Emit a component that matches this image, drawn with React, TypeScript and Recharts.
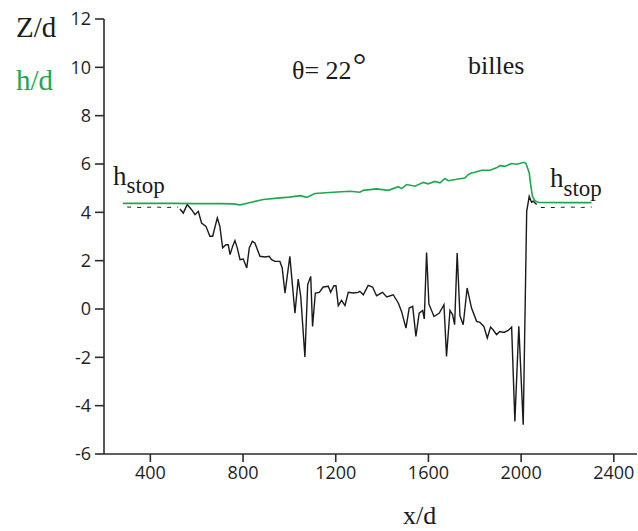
import { LineChart, Line, XAxis, YAxis } from 'recharts'

// x/d ticks and Z/d ticks
const xTicks = [400, 800, 1200, 1600, 2000, 2400]
const yTicks = [-6, -4, -2, 0, 2, 4, 6, 8, 10, 12]

// h/d (green)
const hX = [281, 400, 500, 600, 700, 757, 787, 823, 887, 959, 1000, 1046, 1075, 1110, 1189, 1261, 1304, 1319, 1376, 1427, 1470, 1484, 1506, 1542, 1578, 1599, 1628, 1650, 1671, 1686, 1729, 1757, 1772, 1786, 1801, 1830, 1865, 1894, 1908, 1930, 1959, 1981, 2012, 2021, 2035, 2042, 2049, 2059, 2074, 2200, 2304]
const hY = [4.37, 4.37, 4.37, 4.36, 4.36, 4.35, 4.31, 4.39, 4.53, 4.6, 4.63, 4.69, 4.62, 4.78, 4.83, 4.87, 4.83, 4.91, 4.97, 4.91, 5.06, 4.98, 5.15, 5.08, 5.24, 5.18, 5.28, 5.22, 5.4, 5.31, 5.38, 5.42, 5.56, 5.63, 5.66, 5.74, 5.74, 5.84, 5.93, 5.9, 6.02, 5.99, 6.07, 6.02, 5.63, 5.08, 4.66, 4.48, 4.41, 4.4, 4.4]

// Z/d (black)
const zX = [528, 542, 559, 578, 593, 607, 621, 640, 657, 669, 689, 700, 712, 726, 736, 744, 755, 765, 775, 787, 801, 816, 827, 840, 851, 873, 895, 913, 923, 938, 959, 969, 981, 1002, 1024, 1038, 1049, 1067, 1079, 1092, 1100, 1112, 1129, 1146, 1168, 1178, 1192, 1201, 1211, 1225, 1240, 1254, 1276, 1297, 1304, 1319, 1340, 1359, 1376, 1402, 1420, 1448, 1470, 1484, 1503, 1517, 1532, 1546, 1560, 1575, 1582, 1592, 1602, 1624, 1647, 1667, 1678, 1693, 1704, 1713, 1724, 1736, 1750, 1767, 1786, 1808, 1822, 1839, 1854, 1868, 1879, 1894, 1908, 1926, 1944, 1959, 1973, 1990, 2009, 2024, 2035, 2045, 2052, 2067]
const zY = [4.14, 3.97, 4.32, 4.11, 3.9, 4.04, 3.56, 3.42, 3.01, 3.01, 3.77, 3.42, 2.53, 2.66, 2.66, 2.25, 2.59, 2.83, 2.53, 2.04, 2.07, 1.7, 2.53, 2.8, 2.73, 2.18, 2.15, 2.18, 2.04, 1.97, 1.97, 1.7, 0.66, 2.18, -0.17, 1.24, 0.52, -1.99, 1.01, 1.35, -0.72, 0.66, 0.69, 0.91, 0.94, 0.69, 0.96, 0.96, 0.14, 0.36, 0.14, 0.69, 0.66, 0.69, 0.73, 0.59, 0.98, 0.91, 0.55, 0.69, 0.5, 0.59, 0.25, -0.1, -0.79, 0.04, 0.11, -1.13, -0.17, -0.06, -0.41, 2.34, 0.21, -0.31, -0.17, 0.18, -1.96, -0.06, -0.23, -0.65, 2.32, -0.28, -0.65, 0.87, 0.04, -0.51, -0.55, -0.72, -1.2, -0.75, -0.86, -1.06, -0.93, -0.97, -0.89, -0.75, -4.65, -0.72, -4.79, 4.04, 4.66, 4.42, 4.46, 4.32]

// h_stop dashed traces
const stopLeftX = [300, 360, 420, 470, 520]
const stopLeftY = [4.22, 4.2, 4.22, 4.2, 4.22]
const stopRightX = [2085, 2150, 2210, 2260, 2305]
const stopRightY = [4.2, 4.2, 4.22, 4.2, 4.22]

const zip = (xs: number[], ys: number[]) => xs.map((x, i) => ({ x, y: ys[i] }))

const green = '#1ca84f'
const axisColor = '#2b2b2b'
const serif = '"Liberation Serif", "Times New Roman", serif'
const tickStyle = { fontSize: 18, fill: '#1e1e1e', fontFamily: '"Open Sans", sans-serif' }

export default function App() {
  return (
    <div style={{ position: 'absolute', left: 0, top: 0, width: 638, height: 531, background: '#fff' }}>
      <LineChart width={638} height={531} margin={{ top: 19, right: 1, left: 44, bottom: 27 }}>
        <XAxis
          type="number"
          dataKey="x"
          domain={[200, 2500]}
          ticks={xTicks}
          allowDataOverflow
          height={50}
          tickSize={8}
          tickMargin={4}
          tick={tickStyle}
          axisLine={{ stroke: axisColor, strokeWidth: 1.6 }}
          tickLine={{ stroke: axisColor, strokeWidth: 1.6 }}
        />
        <YAxis
          type="number"
          dataKey="y"
          domain={[-6, 12]}
          ticks={yTicks}
          allowDataOverflow
          width={60}
          tickSize={9}
          tickMargin={4}
          tick={tickStyle}
          axisLine={{ stroke: axisColor, strokeWidth: 1.6 }}
          tickLine={{ stroke: axisColor, strokeWidth: 1.6 }}
        />
        <Line data={zip(stopLeftX, stopLeftY)} dataKey="y" type="linear" stroke="#222" strokeWidth={1} strokeDasharray="4 6" dot={false} isAnimationActive={false} />
        <Line data={zip(stopRightX, stopRightY)} dataKey="y" type="linear" stroke="#222" strokeWidth={1} strokeDasharray="4 6" dot={false} isAnimationActive={false} />
        <Line data={zip(zX, zY)} dataKey="y" type="linear" stroke="#1a1a1a" strokeWidth={1.4} dot={false} isAnimationActive={false} />
        <Line data={zip(hX, hY)} dataKey="y" type="linear" stroke={green} strokeWidth={1.6} dot={false} isAnimationActive={false} />
      </LineChart>
      <svg width={638} height={531} style={{ position: 'absolute', left: 0, top: 0, pointerEvents: 'none' }}>
        <text x={16} y={37} fontFamily={serif} fontSize={29} fill="#1a1a1a">Z/d</text>
        <text x={16} y={90} fontFamily={serif} fontSize={29} fill={green}>h/d</text>
        <text x={292} y={79} fontFamily={serif} fontSize={26} fill="#1a1a1a">
          θ= 22<tspan fontSize={34} dx={1} dy={-3}>°</tspan>
        </text>
        <text x={468} y={74} fontFamily={serif} fontSize={26} fill="#1a1a1a">billes</text>
        <text x={113} y={185} fontFamily={serif} fontSize={27} fill="#1a1a1a">
          h<tspan fontSize={23} dy={8}>stop</tspan>
        </text>
        <text x={550} y={187} fontFamily={serif} fontSize={27} fill="#1a1a1a">
          h<tspan fontSize={23} dy={9}>stop</tspan>
        </text>
        <text x={403} y={524} fontFamily={serif} fontSize={26} fill="#1a1a1a">x/d</text>
      </svg>
    </div>
  )
}
